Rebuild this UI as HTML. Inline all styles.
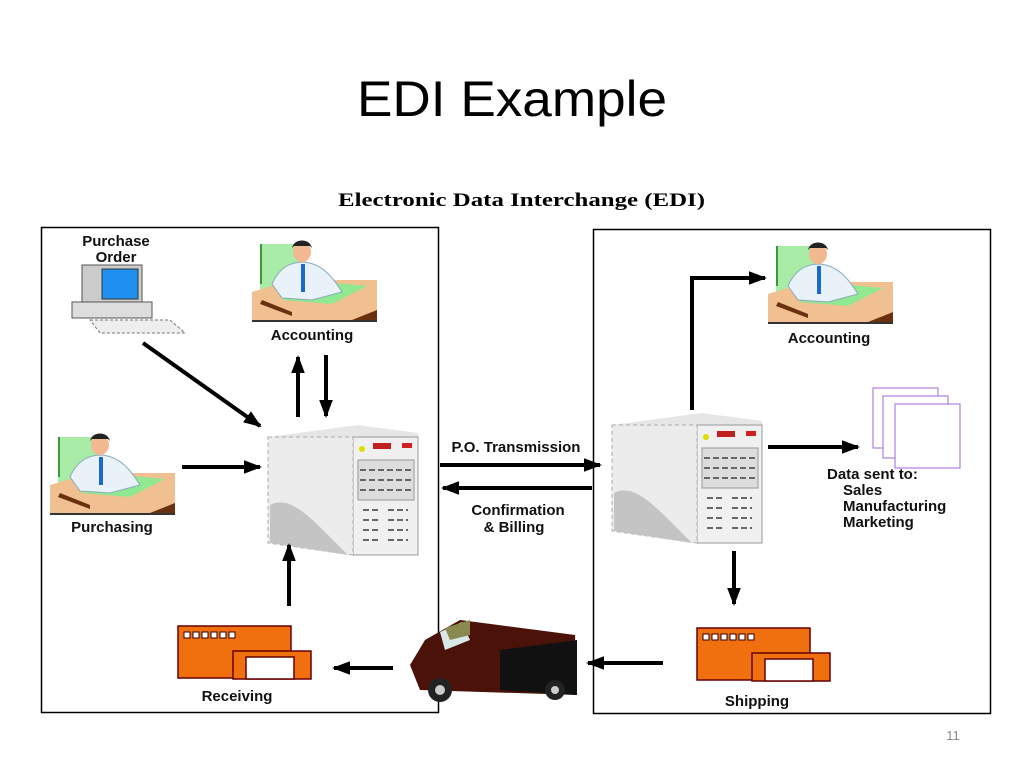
<!DOCTYPE html>
<html><head><meta charset="utf-8"><style>
html,body{margin:0;padding:0;background:#fff;}
svg{display:block;}
.b{font-family:"Liberation Sans",Arial,sans-serif;font-weight:bold;font-size:15px;fill:#111;}
</style></head><body>
<svg width="1024" height="768" viewBox="0 0 1024 768" xmlns="http://www.w3.org/2000/svg">
<defs>
<marker id="ah" markerWidth="5" markerHeight="4" refX="4" refY="2" orient="auto" markerUnits="strokeWidth">
<path d="M0,0.3 L4.5,2 L0,3.7 Z" fill="#000"/></marker>
<g id="person">
<rect x="8" y="4" width="40" height="48" fill="#a8eca8"/>
<rect x="8" y="4" width="2" height="40" fill="#3a9a3a"/>
<path d="M0,52 L40,40 L125,40 L125,82 L0,82 Z" fill="#f0c090"/>
<path d="M30,60 L70,42 L115,46 L80,64 Z" fill="#90e890"/>
<path d="M20,44 C28,26 40,22 52,22 C70,24 80,36 90,52 L60,60 L30,58 Z" fill="#e8f2f8" stroke="#8ab" stroke-width="1"/>
<rect x="49" y="24" width="4" height="28" fill="#1a6ad0"/>
<ellipse cx="50" cy="12" rx="9" ry="10" fill="#f2b890"/>
<path d="M40,8 C42,-2 58,-2 60,8 L58,6 L42,6 Z" fill="#222"/>
<path d="M10,60 L40,72 L40,76 L8,64Z" fill="#6a3010"/>
<path d="M95,82 L125,70 L125,82Z" fill="#6a3010"/>
<rect x="0" y="80" width="125" height="2" fill="#333"/>
</g>
<g id="server">
<path d="M0,12 L90,0 L150,8 L150,130 L90,130 L0,118 Z" fill="#e6e6e6"/>
<path d="M85,12 L150,12 L150,130 L85,130 Z" fill="#f0f0f0" stroke="#999" stroke-width="1"/>
<path d="M0,12 L85,12 L85,130 L0,118Z" fill="#ececec" stroke="#aaa" stroke-width="1" stroke-dasharray="4 3"/>
<path d="M2,80 C20,70 40,90 60,110 L80,130 L2,118 Z" fill="#c4c4c4"/>
<rect x="105" y="18" width="18" height="6" fill="#c02020"/>
<rect x="134" y="18" width="10" height="5" fill="#d02020"/>
<circle cx="94" cy="24" r="3" fill="#dd0"/>
<rect x="90" y="35" width="56" height="40" fill="#ddd" stroke="#999"/>
<path d="M92,45 H144 M92,55 H144 M92,65 H144 M95,85 H112 M120,85 H140 M95,95 H112 M120,95 H140 M95,105 H112 M120,105 H140 M95,115 H112 M120,115 H140" stroke="#666" stroke-width="2" stroke-dasharray="6 3"/>
</g>
<g id="bldg">
<rect x="0" y="0" width="113" height="52" fill="#f07010" stroke="#600" stroke-width="1.5"/>
<rect x="55" y="25" width="78" height="28" fill="#f07010" stroke="#600" stroke-width="1.5"/>
<rect x="68" y="31" width="48" height="22" fill="#fff" stroke="#600" stroke-width="1.5"/>
<g fill="#fff" stroke="#300" stroke-width="1"><rect x="6" y="6" width="6" height="6"/><rect x="15" y="6" width="6" height="6"/><rect x="24" y="6" width="6" height="6"/><rect x="33" y="6" width="6" height="6"/><rect x="42" y="6" width="6" height="6"/><rect x="51" y="6" width="6" height="6"/></g>
</g>
</defs>

<text x="512" y="116" text-anchor="middle" font-family="'Liberation Sans',Arial,sans-serif" font-size="50" textLength="310" lengthAdjust="spacingAndGlyphs" fill="#000">EDI Example</text>
<text x="338" y="206" font-family="'Liberation Serif','Times New Roman',serif" font-weight="bold" font-size="19" textLength="367" lengthAdjust="spacingAndGlyphs" fill="#000">Electronic Data Interchange (EDI)</text>

<rect x="41.5" y="227.5" width="397" height="485" fill="none" stroke="#000" stroke-width="1.5"/>
<rect x="593.5" y="229.5" width="397" height="484" fill="none" stroke="#000" stroke-width="1.5"/>

<text x="116" y="246" text-anchor="middle" class="b">Purchase</text>
<text x="116" y="262" text-anchor="middle" class="b">Order</text>
<rect x="82" y="265" width="60" height="45" fill="#ccc" stroke="#555"/>
<rect x="102" y="269" width="36" height="30" fill="#1e90f0" stroke="#333"/>
<rect x="72" y="302" width="80" height="16" fill="#ddd" stroke="#555"/>
<path d="M90,320 L170,320 L185,333 L100,333 Z" fill="#eee" stroke="#777" stroke-dasharray="3 2"/>

<use href="#person" x="252" y="240"/>
<text x="312" y="340" text-anchor="middle" class="b">Accounting</text>
<use href="#person" x="50" y="433"/>
<text x="112" y="532" text-anchor="middle" class="b">Purchasing</text>
<use href="#person" x="768" y="242"/>
<text x="829" y="343" text-anchor="middle" class="b">Accounting</text>

<use href="#server" x="268" y="425"/>
<use href="#server" x="612" y="413"/>

<use href="#bldg" x="178" y="626"/>
<text x="237" y="701" text-anchor="middle" class="b">Receiving</text>
<use href="#bldg" x="697" y="628"/>
<text x="757" y="706" text-anchor="middle" class="b">Shipping</text>

<path d="M425,640 L460,620 L575,635 L577,695 L420,690 L410,665 Z" fill="#4a1208"/>
<path d="M440,632 L462,622 L470,640 L445,650 Z" fill="#d8e8e8"/>
<path d="M445,628 L470,620 L470,635 L450,640Z" fill="#8a8a50"/>
<path d="M500,650 L577,640 L577,695 L500,690Z" fill="#111"/>
<circle cx="440" cy="690" r="12" fill="#222"/><circle cx="440" cy="690" r="5" fill="#ccc"/>
<circle cx="555" cy="690" r="10" fill="#222"/><circle cx="555" cy="690" r="4" fill="#ccc"/>

<g fill="#fff" stroke="#b080e0" stroke-width="1.2">
<rect x="873" y="388" width="65" height="60"/>
<rect x="883" y="396" width="65" height="62"/>
<rect x="895" y="404" width="65" height="64"/>
</g>
<text x="827" y="479" class="b">Data sent to:</text>
<text x="843" y="495" class="b">Sales</text>
<text x="843" y="511" class="b">Manufacturing</text>
<text x="843" y="527" class="b">Marketing</text>

<text x="516" y="452" text-anchor="middle" class="b">P.O. Transmission</text>
<text x="518" y="515" text-anchor="middle" class="b">Confirmation</text>
<text x="514" y="532" text-anchor="middle" class="b">&amp; Billing</text>

<g stroke="#000" stroke-width="4" fill="none" marker-end="url(#ah)">
<line x1="143" y1="343" x2="260" y2="426"/>
<line x1="298" y1="417" x2="298" y2="357"/>
<line x1="326" y1="355" x2="326" y2="416"/>
<line x1="182" y1="467" x2="260" y2="467"/>
<line x1="289" y1="606" x2="289" y2="545"/>
<line x1="393" y1="668" x2="334" y2="668"/>
<line x1="663" y1="663" x2="588" y2="663"/>
<line x1="734" y1="551" x2="734" y2="604"/>
<polyline points="692,410 692,278 765,278"/>
<line x1="768" y1="447" x2="858" y2="447"/>
<line x1="440" y1="465" x2="600" y2="465"/>
<line x1="592" y1="488" x2="443" y2="488"/>
</g>

<text x="953" y="740" text-anchor="middle" font-family="'Liberation Sans',Arial,sans-serif" font-size="13" fill="#888">11</text>
</svg>
</body></html>
